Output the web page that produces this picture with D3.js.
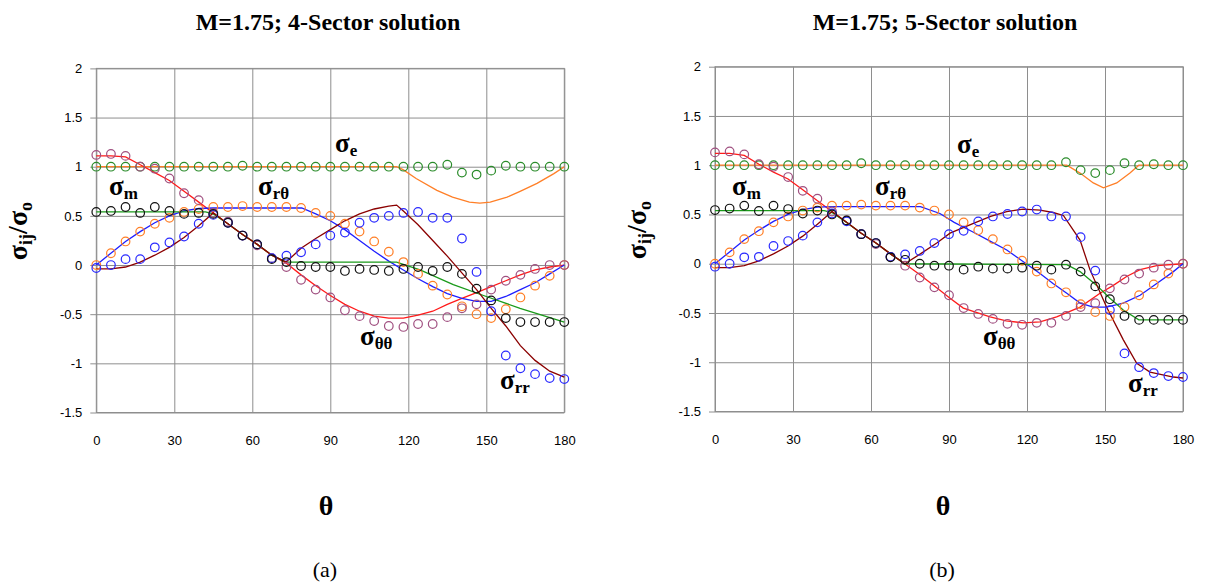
<!DOCTYPE html>
<html><head><meta charset="utf-8">
<script src="https://cdn.jsdelivr.net/npm/d3@7/dist/d3.min.js"></script>
<style>
body{margin:0;background:#fff;}
svg{display:block;}
.tick text{font-family:"Liberation Sans",Arial,sans-serif;font-size:13px;fill:#000;}
</style></head>
<body><svg id="chart" width="1206" height="582"></svg>
<script>
// ---------- shared data ----------
const thetaPts = [0,5.625,11.25,16.875,22.5,28.125,33.75,39.375,45,50.625,56.25,61.875,67.5,73.125,78.75,84.375,90,95.625,101.25,106.875,112.5,118.125,123.75,129.375,135,140.625,146.25,151.875,157.5,163.125,168.75,174.375,180];
const xTicks = [0,30,60,90,120,150,180];
const yTicks = [-1.5,-1,-0.5,0,0.5,1,1.5,2];
const yTickLabels = ["-1.5","-1","-0.5","0","0.5","1","1.5","2"];

// ---------- panel (a): 4-sector ----------
const A_title = "M=1.75; 4-Sector solution";
const A_caption = "(a)";
// markers
const A_seMk  = [1,1,1,1,1,1,1,1,1,1,1.01,1,1,1,1,1,1,1,1,1,1,1,1,1,1.02,0.94,0.92,0.96,1.01,1,1,1,1];
const A_smMk  = [0.54,0.55,0.59,0.53,0.59,0.55,0.52,0.53,0.52,0.43,0.30,0.21,0.06,0.03,-0.01,-0.02,-0.02,-0.06,-0.04,-0.05,-0.06,-0.04,-0.02,-0.06,-0.02,-0.09,-0.24,-0.36,-0.54,-0.58,-0.58,-0.58,-0.58];
const A_srtMk = [0,0.12,0.24,0.34,0.42,0.48,0.54,0.57,0.59,0.59,0.60,0.59,0.59,0.59,0.58,0.53,0.50,0.42,0.34,0.24,0.135,0.03,-0.09,-0.21,-0.30,-0.42,-0.50,-0.54,-0.45,-0.33,-0.21,-0.11,0];
const A_sttMk = [1.12,1.13,1.11,1.0,0.98,0.88,0.73,0.66,0.53,0.44,0.30,0.20,0.07,-0.02,-0.15,-0.25,-0.33,-0.46,-0.52,-0.57,-0.62,-0.63,-0.60,-0.60,-0.53,-0.44,-0.40,-0.25,-0.16,-0.10,-0.04,0.0,0.0];
const A_srrMk = [-0.03,0.0,0.06,0.06,0.18,0.23,0.29,0.42,0.51,0.43,0.30,0.21,0.07,0.095,0.13,0.21,0.30,0.33,0.43,0.48,0.50,0.53,0.54,0.48,0.48,0.27,-0.07,-0.47,-0.92,-1.05,-1.11,-1.15,-1.16];
// lines
const A_seLnT  = [0,115.5,118,123,131,137,143.5,147.5,151.5,158,163,169.5,176,180];
const A_seLnV  = [1,1,0.97,0.88,0.76,0.69,0.64,0.63,0.64,0.69,0.75,0.83,0.93,1.0];
const A_smLnT  = [0,42,45,50.6,56.25,61.9,67.5,73,115.5,124.5,137.3,150,163,180];
const A_smLnV  = [0.54,0.54,0.52,0.42,0.31,0.21,0.10,0.03,0.03,-0.05,-0.2,-0.32,-0.44,-0.58];
const A_srtLnT = [0,5.6,11.25,16.9,22.5,28.1,33.75,39.4,45,52,60,70,79,84.4,90,95.6,101.25,106.9,112.5,118.1,123.75,129.4,135,140.6,146.25,151.9,157.5,163.1,168.75,174.4,180];
const A_srtLnV = [0,0.12,0.24,0.34,0.43,0.50,0.55,0.575,0.58,0.58,0.58,0.58,0.58,0.52,0.45,0.36,0.25,0.14,0.04,-0.05,-0.14,-0.22,-0.29,-0.34,-0.37,-0.37,-0.32,-0.25,-0.18,-0.09,0];
const A_sttLnT = [0,5.6,11.25,16.9,22.5,28.1,33.75,39.4,45,50.6,56.25,61.9,67.5,73,78.75,84.4,90,95.6,101.25,106.9,112.5,118.1,123.75,129.4,135,140.6,146.25,151.9,157.5,163.1,168.75,174.4,180];
const A_sttLnV = [1.11,1.11,1.10,1.02,0.94,0.86,0.75,0.64,0.53,0.42,0.31,0.21,0.10,0.02,-0.10,-0.21,-0.31,-0.40,-0.47,-0.52,-0.54,-0.54,-0.51,-0.47,-0.40,-0.34,-0.28,-0.22,-0.16,-0.10,-0.05,-0.02,0];
const A_srrLnT = [0,5.6,11.25,16.9,22.5,28.1,33.75,39.4,45,50.6,56.25,61.9,67.5,73,78.75,84.4,90,95.6,101.25,106.9,112.5,115.5,118.1,123.75,129.4,135,140.6,146.25,151.9,157.5,163.1,168.75,174.4,180];
const A_srrLnV = [-0.04,-0.04,-0.02,0.03,0.10,0.18,0.28,0.40,0.53,0.42,0.31,0.21,0.10,0.03,0.17,0.27,0.36,0.45,0.52,0.57,0.60,0.61,0.55,0.41,0.25,0.09,-0.08,-0.25,-0.44,-0.62,-0.82,-0.97,-1.08,-1.14];

// ---------- panel (b): 5-sector ----------
const B_title = "M=1.75; 5-Sector solution";
const B_caption = "(b)";
const B_seMk  = [1,1,1,1,1,1,1,1,1,1,1.02,1,1,1,1,1,1,1,1,1,1,1,1,1,1.03,0.95,0.92,0.95,1.02,1,1.01,1,1];
const B_smMk  = [0.545,0.56,0.59,0.535,0.59,0.555,0.51,0.54,0.50,0.44,0.30,0.21,0.065,0.04,0.0,-0.02,-0.02,-0.06,-0.03,-0.05,-0.05,-0.04,-0.02,-0.06,-0.01,-0.08,-0.23,-0.36,-0.53,-0.57,-0.57,-0.57,-0.57];
const B_srtMk = [0,0.115,0.25,0.33,0.42,0.48,0.54,0.57,0.59,0.59,0.60,0.59,0.59,0.59,0.57,0.54,0.50,0.42,0.34,0.25,0.145,0.03,-0.08,-0.20,-0.29,-0.41,-0.49,-0.53,-0.44,-0.32,-0.21,-0.10,0];
const B_sttMk = [1.13,1.14,1.11,1.01,0.985,0.88,0.74,0.66,0.53,0.44,0.30,0.20,0.07,-0.02,-0.14,-0.24,-0.32,-0.45,-0.51,-0.56,-0.61,-0.62,-0.60,-0.60,-0.53,-0.44,-0.40,-0.25,-0.16,-0.10,-0.04,-0.01,0];
const B_srrMk = [-0.03,0.0,0.065,0.07,0.18,0.23,0.285,0.42,0.51,0.43,0.30,0.21,0.07,0.095,0.13,0.21,0.30,0.335,0.43,0.48,0.505,0.53,0.55,0.48,0.48,0.27,-0.07,-0.47,-0.91,-1.05,-1.11,-1.14,-1.15];
const B_seLnT  = [0,135.3,140.4,145.5,149.4,154.5,159.6,163,180];
const B_seLnV  = [1,1,0.92,0.82,0.77,0.82,0.92,1,1];
const B_smLnT  = [0,42,45,50.6,56.25,61.9,67.5,73,135.3,140.4,146.8,151.9,157,163,180];
const B_smLnV  = [0.54,0.54,0.52,0.42,0.31,0.21,0.10,0.0,-0.01,-0.08,-0.22,-0.35,-0.47,-0.57,-0.57];
const B_srtLnT = [0,5.6,11.25,16.9,22.5,28.1,33.75,39.4,45,52,60,70,79,86.5,92,99.4,105.8,112.2,118.6,125,130,135.3,140.4,145.5,150.6,157,163.5,169.9,176.3,180];
const B_srtLnV = [0,0.12,0.24,0.34,0.43,0.50,0.55,0.575,0.58,0.58,0.58,0.58,0.58,0.51,0.42,0.32,0.23,0.14,0.02,-0.10,-0.20,-0.30,-0.40,-0.44,-0.44,-0.40,-0.32,-0.20,-0.08,0];
const B_sttLnT = [0,5.6,11.25,16.9,22.5,28.1,33.75,39.4,45,50.6,56.25,61.9,67.5,73,78.7,86.5,89.9,95.5,105.8,112,118.6,125,131.4,140.4,148.1,153.2,158.3,163.5,169.9,180];
const B_sttLnV = [1.12,1.12,1.10,1.01,0.93,0.86,0.75,0.64,0.53,0.42,0.31,0.21,0.10,0.0,-0.11,-0.27,-0.34,-0.45,-0.54,-0.58,-0.60,-0.59,-0.54,-0.44,-0.30,-0.22,-0.13,-0.06,-0.02,0];
const B_srrLnT = [0,5.6,11.25,16.9,22.5,28.1,33.75,39.4,45,50.6,56.25,61.9,67.5,73,79,85.3,90.4,99.4,106,112.2,118.6,125,130,134,137.8,140.4,144.2,150.6,157,162.2,167.3,176.3,180];
const B_srrLnV = [-0.04,-0.04,-0.02,0.03,0.10,0.18,0.28,0.40,0.53,0.42,0.31,0.21,0.10,0.0,0.10,0.21,0.31,0.41,0.48,0.53,0.555,0.545,0.52,0.49,0.34,0.24,-0.06,-0.44,-0.77,-1.01,-1.10,-1.15,-1.16];

// colours
const C = {seMk:"#2b8c2b", seLn:"#ff7f27", smMk:"#111111", smLn:"#1a9a1a",
           srtMk:"#ff7f27", srtLn:"#1f1fff", sttMk:"#a05080", sttLn:"#ff1a1a",
           srrMk:"#2a2aff", srrLn:"#8b0000", grid:"#8e8e8e"};

const svg = d3.select("#chart");
const SERIF = "'Liberation Serif','Times New Roman',serif";

function panel(cfg){
  const x = d3.scaleLinear().domain([0,180]).range([cfg.x0, cfg.x1]);
  const y = d3.scaleLinear().domain([-1.5,2]).range([cfg.yb, cfg.yt]);
  const g = svg.append("g");
  const w = cfg.x1-cfg.x0, h = cfg.yb-cfg.yt;

  // gridlines
  const gy = g.append("g").attr("transform",`translate(${cfg.x0},0)`)
    .call(d3.axisLeft(y).tickValues(yTicks).tickSize(-w).tickFormat(""));
  gy.select(".domain").remove();
  gy.selectAll("line").attr("stroke",C.grid).attr("stroke-width",1);
  const gx = g.append("g").attr("transform",`translate(0,${cfg.yb})`)
    .call(d3.axisBottom(x).tickValues(xTicks).tickSize(-h).tickFormat(""));
  gx.select(".domain").remove();
  gx.selectAll("line").attr("stroke",C.grid).attr("stroke-width",1);
  g.append("rect").attr("x",cfg.x0).attr("y",cfg.yt).attr("width",w).attr("height",h)
    .attr("fill","none").attr("stroke",C.grid).attr("stroke-width",1);

  // small ticks on zero line
  const gz = g.append("g").attr("transform",`translate(0,${y(0)})`)
    .call(d3.axisBottom(x).tickValues(xTicks).tickSize(4).tickFormat(""));
  gz.select(".domain").remove();
  gz.selectAll("line").attr("stroke",C.grid);

  // y axis labels
  const ay = g.append("g").attr("transform",`translate(${cfg.x0},0)`)
    .call(d3.axisLeft(y).tickValues(yTicks).tickSize(6).tickPadding(8)
      .tickFormat((d,i)=>yTickLabels[i]));
  ay.select(".domain").remove();
  ay.selectAll("line").attr("stroke",C.grid);
  // x axis labels
  const ax = g.append("g").attr("transform",`translate(0,${cfg.yb})`)
    .call(d3.axisBottom(x).tickValues(xTicks).tickSize(0).tickPadding(23).tickFormat(d3.format("d")));
  ax.select(".domain").remove();

  const line = d3.line().x(d=>x(d[0])).y(d=>y(d[1]));
  const lines = [
    [cfg.seLnT, cfg.seLnV, C.seLn],
    [cfg.sttLnT, cfg.sttLnV, C.sttLn],
    [cfg.srtLnT, cfg.srtLnV, C.srtLn],
    [cfg.smLnT, cfg.smLnV, C.smLn],
    [cfg.srrLnT, cfg.srrLnV, C.srrLn]
  ];
  lines.forEach(([T,V,col])=>{
    g.append("path").datum(T.map((t,i)=>[t,V[i]]))
      .attr("d",line).attr("fill","none").attr("stroke",col).attr("stroke-width",1.3);
  });
  const mks = [
    [cfg.seMk, C.seMk],[cfg.srtMk, C.srtMk],[cfg.sttMk, C.sttMk],
    [cfg.srrMk, C.srrMk],[cfg.smMk, C.smMk]
  ];
  mks.forEach(([V,col])=>{
    g.append("g").selectAll("circle").data(thetaPts.map((t,i)=>[t,V[i]])).join("circle")
      .attr("cx",d=>x(d[0])).attr("cy",d=>y(d[1])).attr("r",4.3)
      .attr("fill","none").attr("stroke",col).attr("stroke-width",1.2);
  });

  // series labels
  cfg.labels.forEach(L=>{
    const t = g.append("text").attr("x",L.x).attr("y",L.y)
      .attr("font-family",SERIF).attr("font-weight","bold").attr("fill","#000");
    t.append("tspan").attr("font-size","27px").text("σ");
    t.append("tspan").attr("font-size","17px").attr("dy",4).text(L.sub);
  });

  // title
  svg.append("text").attr("x",cfg.cx).attr("y",30).attr("text-anchor","middle")
    .attr("font-family",SERIF).attr("font-weight","bold").attr("font-size","24px").text(cfg.title);
  // x title
  svg.append("text").attr("x",cfg.cx-2).attr("y",515).attr("text-anchor","middle")
    .attr("font-family",SERIF).attr("font-weight","bold").attr("font-size","28px").text("θ");
  svg.append("text").attr("x",cfg.cx-3).attr("y",577).attr("text-anchor","middle")
    .attr("font-family",SERIF).attr("font-size","22px").text(cfg.caption);
  // y title
  const yt = svg.append("text").attr("transform",`translate(${cfg.x0-69},${cfg.ymid}) rotate(-90)`)
    .attr("text-anchor","middle").attr("font-family",SERIF).attr("font-weight","bold");
  yt.append("tspan").attr("font-size","28px").text("σ");
  yt.append("tspan").attr("font-size","18px").attr("dy",5).text("ij");
  yt.append("tspan").attr("font-size","28px").attr("dy",-5).text("/σ");
  yt.append("tspan").attr("font-size","18px").attr("dy",5).text("o");
}

panel({x0:96.3, x1:564.3, yt:68.4, yb:412.5, cx:328, ymid:231, title:A_title, caption:A_caption,
  seMk:A_seMk, smMk:A_smMk, srtMk:A_srtMk, sttMk:A_sttMk, srrMk:A_srrMk,
  seLnT:A_seLnT, seLnV:A_seLnV, smLnT:A_smLnT, smLnV:A_smLnV, srtLnT:A_srtLnT, srtLnV:A_srtLnV,
  sttLnT:A_sttLnT, sttLnV:A_sttLnV, srrLnT:A_srrLnT, srrLnV:A_srrLnV,
  labels:[{x:335,y:152,sub:"e"},{x:109,y:195,sub:"m"},{x:258,y:195,sub:"rθ"},{x:360,y:345,sub:"θθ"},{x:500,y:389,sub:"rr"}]});

panel({x0:715, x1:1183, yt:66.7, yb:411.5, cx:945, ymid:230, title:B_title, caption:B_caption,
  seMk:B_seMk, smMk:B_smMk, srtMk:B_srtMk, sttMk:B_sttMk, srrMk:B_srrMk,
  seLnT:B_seLnT, seLnV:B_seLnV, smLnT:B_smLnT, smLnV:B_smLnV, srtLnT:B_srtLnT, srtLnV:B_srtLnV,
  sttLnT:B_sttLnT, sttLnV:B_sttLnV, srrLnT:B_srrLnT, srrLnV:B_srrLnV,
  labels:[{x:957,y:153,sub:"e"},{x:732,y:195,sub:"m"},{x:875,y:195,sub:"rθ"},{x:983,y:345,sub:"θθ"},{x:1128,y:392,sub:"rr"}]});
</script></body></html>
